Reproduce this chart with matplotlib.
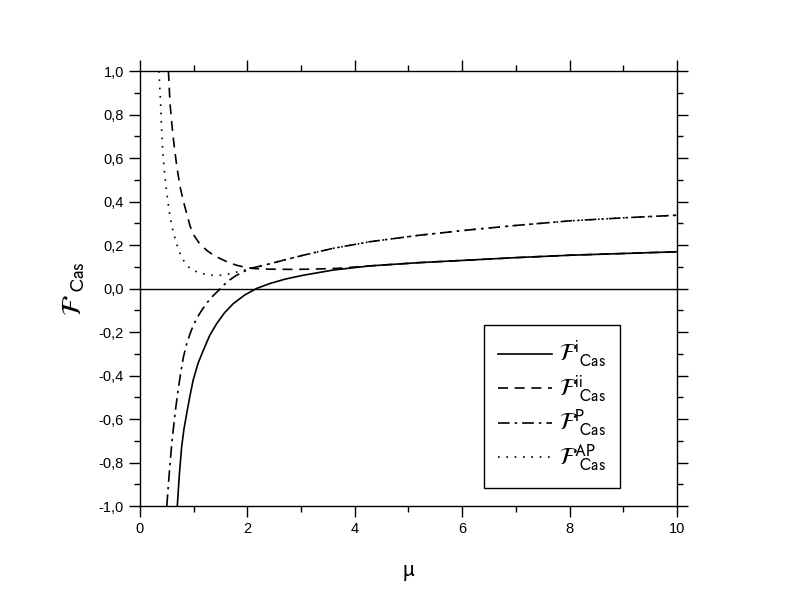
import matplotlib
matplotlib.use("Agg")
import matplotlib.pyplot as plt
from matplotlib.ticker import MultipleLocator, FuncFormatter

plt.rcParams['font.family'] = ['Liberation Sans', 'DejaVu Sans']
plt.rcParams['mathtext.fontset'] = 'stixsans'

# F^i_Cas (solid)
mu_i = [0.695, 0.735, 0.776, 0.82, 0.87, 0.93, 0.99, 1.08, 1.18, 1.3, 1.43, 1.58, 1.74, 1.95, 2.17, 2.42, 2.7, 3.04, 3.6, 4.28, 5.2, 6.15, 7.0, 8.0, 9.0, 10.0]
F_i = [-1.0, -0.85, -0.729, -0.645, -0.575, -0.495, -0.422, -0.345, -0.284, -0.215, -0.161, -0.11, -0.069, -0.03, 0.0, 0.023, 0.043, 0.061, 0.085, 0.104, 0.119, 0.131, 0.142, 0.153, 0.161, 0.169]

# F^ii_Cas (dashed)
mu_ii = [0.53, 0.56, 0.6, 0.64, 0.69, 0.745, 0.81, 0.87, 0.93, 0.99, 1.1, 1.24, 1.36, 1.49, 1.65, 1.8, 1.95, 2.11, 2.4, 2.8, 3.2, 3.7, 4.28, 5.2, 6.15, 7.0, 8.0, 9.0, 10.0]
F_ii = [1.0, 0.85, 0.74, 0.65, 0.555, 0.47, 0.4, 0.345, 0.29, 0.25, 0.21, 0.176, 0.155, 0.138, 0.12, 0.107, 0.098, 0.092, 0.089, 0.088, 0.089, 0.093, 0.104, 0.119, 0.131, 0.142, 0.153, 0.161, 0.169]

# F^P_Cas (dash-dot)
mu_p = [0.5, 0.53, 0.56, 0.59, 0.62, 0.66, 0.71, 0.76, 0.81, 0.88, 0.96, 1.05, 1.15, 1.26, 1.37, 1.46, 1.52, 1.65, 1.8, 2.05, 2.36, 2.7, 3.04, 3.6, 4.28, 5.2, 6.15, 7.0, 8.0, 9.0, 10.0]
F_p = [-1.0, -0.9, -0.805, -0.72, -0.65, -0.56, -0.468, -0.385, -0.314, -0.245, -0.19, -0.14, -0.1, -0.062, -0.031, -0.01, 0.007, 0.036, 0.061, 0.092, 0.11, 0.132, 0.153, 0.185, 0.215, 0.245, 0.27, 0.29, 0.311, 0.325, 0.337]

# F^AP_Cas (dotted)
mu_ap = [0.354, 0.37, 0.385, 0.4, 0.42, 0.45, 0.485, 0.52, 0.56, 0.62, 0.68, 0.74, 0.81, 0.88, 0.96, 1.1, 1.24, 1.36, 1.49, 1.62, 1.74, 1.86, 1.99, 2.15, 2.36, 2.7, 3.04, 3.6, 4.28, 5.2, 6.15, 7.0, 8.0, 9.0, 10.0]
F_ap = [1.0, 0.92, 0.85, 0.75, 0.65, 0.55, 0.47, 0.4, 0.33, 0.26, 0.207, 0.165, 0.13, 0.105, 0.087, 0.072, 0.064, 0.061, 0.061, 0.065, 0.072, 0.079, 0.087, 0.098, 0.11, 0.132, 0.153, 0.185, 0.215, 0.245, 0.27, 0.29, 0.311, 0.325, 0.337]

labels = [r'$\mathcal{F}^{\mathrm{i}}_{\hspace{0.4}\mathrm{Cas}}$',
          r'$\mathcal{F}^{\mathrm{ii}}_{\hspace{0.4}\mathrm{Cas}}$',
          r'$\mathcal{F}^{\mathrm{P}}_{\hspace{0.4}\mathrm{Cas}}$',
          r'$\mathcal{F}^{\mathrm{AP}}_{\hspace{0.4}\mathrm{Cas}}$']

fig = plt.figure(figsize=(7.85, 6.06), dpi=100)
ax = fig.add_axes([0.1783, 0.165, 0.684, 0.7178])

lw = 1.2
ax.axhline(0, color='black', lw=1.0)
ax.plot(mu_i, F_i, color='black', lw=lw, linestyle='-', label=labels[0])
ax.plot(mu_ii, F_ii, color='black', lw=lw, linestyle=(0, (6, 4)), label=labels[1])
ax.plot(mu_p, F_p, color='black', lw=lw, linestyle=(0, (7, 3, 1.5, 3)), label=labels[2])
ax.plot(mu_ap, F_ap, color='black', lw=lw, linestyle=(0, (1, 4)), label=labels[3])

ax.set_xlim(0, 10)
ax.set_ylim(-1.0, 1.0)
ax.xaxis.set_major_locator(MultipleLocator(2))
ax.xaxis.set_minor_locator(MultipleLocator(1))
ax.yaxis.set_major_locator(MultipleLocator(0.2))
ax.yaxis.set_minor_locator(MultipleLocator(0.1))
ax.yaxis.set_major_formatter(FuncFormatter(lambda v, p: f"{v:.1f}".replace('.', ',').replace('-0,0', '0,0')))
ax.xaxis.set_major_formatter(FuncFormatter(lambda v, p: f"{v:.0f}"))
ax.tick_params(which='both', direction='out', top=True, right=True, labeltop=False, labelright=False, width=1.0, labelsize=10.5)
ax.tick_params(which='major', length=8)
ax.tick_params(which='minor', length=4)
for s in ax.spines.values():
    s.set_linewidth(1.0)

ax.set_xlabel(r'$\mathrm{\mu}$', fontsize=17, labelpad=18)
ax.set_ylabel(r'$\mathcal{F}_{\hspace{0.4}\mathrm{Cas}}$', fontsize=20, labelpad=8)

leg = ax.legend(loc='lower left', bbox_to_anchor=(0.64, 0.041), fontsize=17,
                frameon=True, fancybox=False, edgecolor='black', framealpha=1,
                handlelength=2.3, labelspacing=0.15, borderpad=0.6, handletextpad=0.3,
                borderaxespad=0)
leg.get_frame().set_linewidth(1.0)

fig.savefig('out.png', dpi=100)
